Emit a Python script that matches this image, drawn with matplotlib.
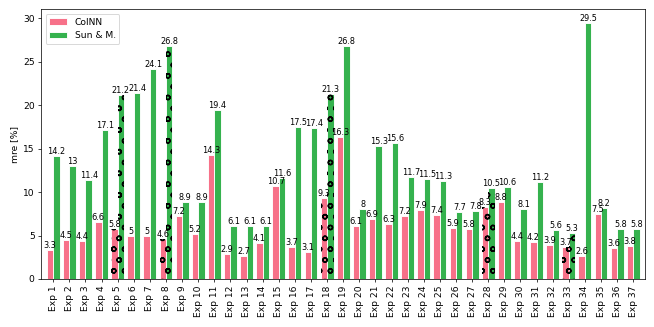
import matplotlib
matplotlib.use("Agg")
import matplotlib.pyplot as plt
import numpy as np

categories = [f"Exp {i}" for i in range(1, 38)]
colnn = [3.3, 4.5, 4.4, 6.6, 5.8, 5, 5, 4.6, 7.2, 5.2, 14.3, 2.9, 2.7, 4.1, 10.7,
         3.7, 3.1, 9.3, 16.3, 6.1, 6.9, 6.3, 7.2, 7.9, 7.4, 5.9, 5.8, 8.3, 8.8,
         4.4, 4.2, 3.9, 3.7, 2.6, 7.5, 3.6, 3.8]
sunm = [14.2, 13, 11.4, 17.1, 21.2, 21.4, 24.1, 26.8, 8.9, 8.9, 19.4, 6.1, 6.1,
        6.1, 11.6, 17.5, 17.4, 21.3, 26.8, 8, 15.3, 15.6, 11.7, 11.5, 11.3, 7.7,
        7.8, 10.5, 10.6, 8.1, 11.2, 5.6, 5.3, 29.5, 8.2, 5.8, 5.8]
hatched = ["Exp 5", "Exp 8", "Exp 18", "Exp 28", "Exp 33"]

pink = "#f77189"
green = "#35b24e"

DPI = 65.4
plt.rcParams["hatch.linewidth"] = 1.6
fig = plt.figure(figsize=(10, 5), dpi=DPI)
ax = fig.add_axes([0.0627, 0.1468, 0.9228, 0.8242])

x = np.arange(len(categories))
w = 0.4
b1 = ax.bar(x - w / 2, colnn, w, color=pink, edgecolor="white", linewidth=1.0, label="ColNN")
b2 = ax.bar(x + w / 2, sunm, w, color=green, edgecolor="white", linewidth=1.0, label="Sun & M.")

for i, c in enumerate(categories):
    if c in hatched:
        ax.bar(x[i] - w / 2, colnn[i], w, facecolor="none", edgecolor="black", linewidth=0, hatch="o")
        ax.bar(x[i] + w / 2, sunm[i], w, facecolor="none", edgecolor="black", linewidth=0, hatch="o")

ax.bar_label(b1, labels=[f"{v:g}" for v in colnn], fontsize=9, padding=0)
ax.bar_label(b2, labels=[f"{v:g}" for v in sunm], fontsize=9, padding=0)

ax.set_xticks(x)
ax.set_xticklabels(categories, rotation=90, fontsize=10)
ax.tick_params(axis="y", labelsize=10)
ax.set_ylabel("mre [%]", fontsize=10)
ax.set_xlim(-0.76, 36.7)
ax.set_ylim(0, 31.0)
ax.set_yticks([0, 5, 10, 15, 20, 25, 30])
ax.legend(loc="upper left", fontsize=10)

fig.savefig("out.png", dpi=DPI)
